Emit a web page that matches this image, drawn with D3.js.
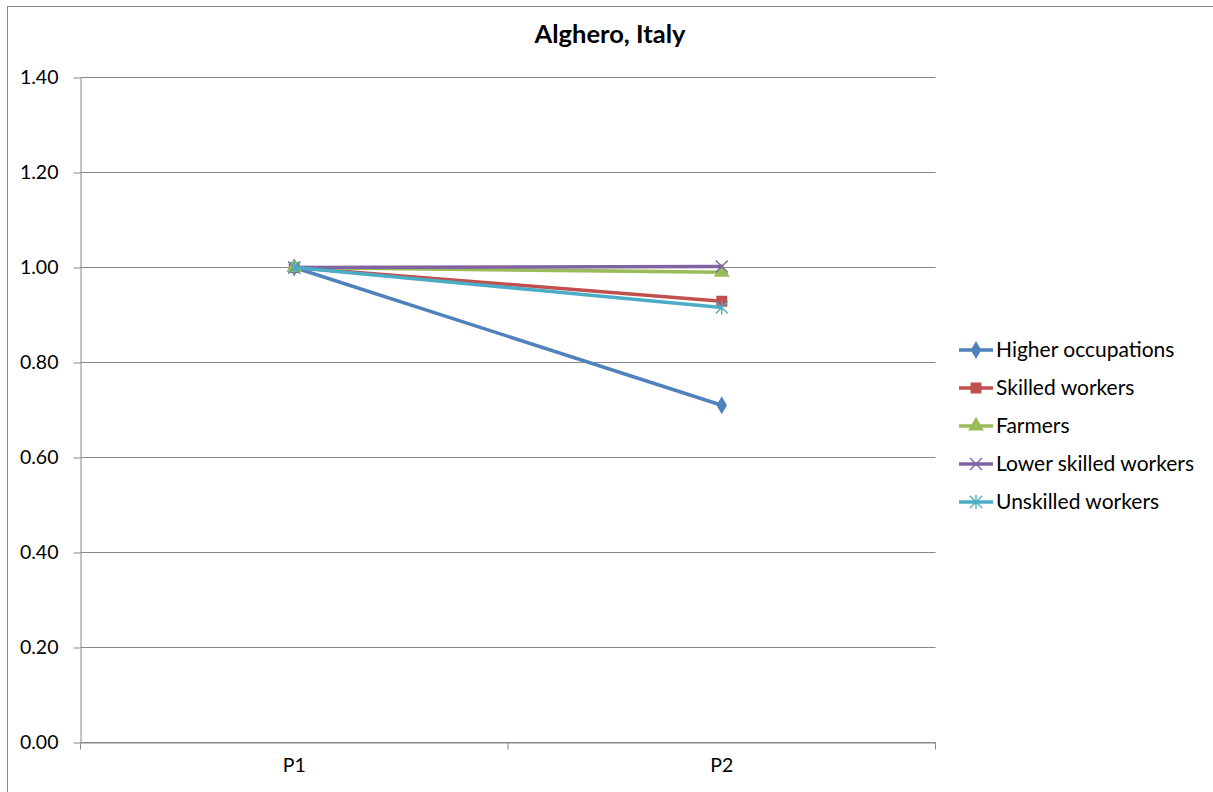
<!DOCTYPE html>
<meta charset="utf-8">
<style>
    body { margin: 0; background: #fff; }
    text { font-family: Lato, "Open Sans", sans-serif; fill: #000; }
    .tick text { font-size: 19.5px; }
</style>
<svg width="1213" height="792"></svg>
<script src="https://d3js.org/d3.v7.min.js"></script>
<script>

    var periods = ["P1", "P2"];
    var seriesNames = ["Higher occupations", "Skilled workers", "Farmers", "Lower skilled workers", "Unskilled workers"];
    var higher = [1.00, 0.71];
    var skilled = [1.00, 0.929];
    var farmers = [1.00, 0.99];
    var lowerSkilled = [1.00, 1.002];
    var unskilled = [1.00, 0.916];
    var yTicks = [0, 0.2, 0.4, 0.6, 0.8, 1.0, 1.2, 1.4];

    var colors = ["#4F81BD", "#C0504D", "#9BBB59", "#8064A2", "#4BACC6"];
    var symbols = ["diamond", "square", "triangle", "x", "star"];

    var series = [higher, skilled, farmers, lowerSkilled, unskilled].map(function (v, i) {
        return {name: seriesNames[i], values: v, color: colors[i], symbol: symbols[i]};
    });

    var svg = d3.select("svg"),
        margin = {top: 77.5, left: 80.5},
        width = 855,
        height = 665,
        g = svg.append("g").attr("transform", "translate(" + margin.left + "," + margin.top + ")");

    // chart border
    svg.append("rect")
        .attr("x", 7.5).attr("y", 6.5)
        .attr("width", 1240).attr("height", 820)
        .attr("fill", "none").attr("stroke", "#888").attr("stroke-width", 1);

    svg.append("text")
        .attr("x", 610).attr("y", 43)
        .attr("text-anchor", "middle")
        .style("font-size", "25.5px").style("font-weight", "bold")
        .text("Alghero, Italy");

    var x = d3.scaleBand().domain(periods).range([0, width]);
    var y = d3.scaleLinear().domain([0, 1.4]).range([height, 0]);

    // gridlines
    g.append("g")
        .selectAll("line")
        .data(yTicks)
        .enter().append("line")
        .attr("x1", 0).attr("x2", width)
        .attr("y1", d => Math.round(y(d)))
        .attr("y2", d => Math.round(y(d)))
        .attr("stroke", "#888");

    var yAxis = g.append("g")
        .call(d3.axisLeft(y).tickValues(yTicks).tickFormat(d3.format(".2f")).tickSize(7).tickSizeOuter(0).tickPadding(15));
    yAxis.selectAll("line, path").attr("stroke", "#888");

    var xAxis = g.append("g")
        .attr("transform", "translate(0," + height + ")")
        .call(d3.axisBottom(x).tickSize(0).tickPadding(16));
    xAxis.select(".domain").attr("stroke", "#888");
    g.append("g")
        .selectAll("line")
        .data([0, width / 2, width])
        .enter().append("line")
        .attr("x1", d => d).attr("x2", d => d)
        .attr("y1", height).attr("y2", height + 7)
        .attr("stroke", "#888");

    function marker(sel, s, size) {
        if (s.symbol === "x" || s.symbol === "star") {
            var r = size;
            var p = "M" + (-r) + "," + (-r) + "L" + r + "," + r + "M" + (-r) + "," + r + "L" + r + "," + (-r);
            if (s.symbol === "star") p += "M0," + (-r - 1) + "L0," + (r + 1);
            sel.append("path").attr("d", p).attr("stroke", s.color).attr("stroke-width", 1.4).attr("fill", "none");
        } else {
            var sym = {diamond: d3.symbolDiamond, square: d3.symbolSquare, triangle: d3.symbolTriangle}[s.symbol];
            var area = s.symbol === "diamond" ? 95 : s.symbol === "square" ? 121 : 110;
            sel.append("path").attr("d", d3.symbol(sym, area)()).attr("fill", s.color);
        }
    }

    var line = d3.line()
        .x((d, i) => x(periods[i]) + x.bandwidth() / 2)
        .y(d => y(d));

    series.forEach(function (s) {
        g.append("path")
            .datum(s.values)
            .attr("d", line)
            .attr("fill", "none")
            .attr("stroke", s.color)
            .attr("stroke-width", 3.5);
        s.values.forEach(function (v, i) {
            var m = g.append("g")
                .attr("transform", "translate(" + (x(periods[i]) + x.bandwidth() / 2) + "," + y(v) + ")");
            marker(m, s, 6);
        });
    });

    // legend
    var legend = svg.append("g").attr("transform", "translate(959,350)");
    series.forEach(function (s, i) {
        var row = legend.append("g").attr("transform", "translate(0," + (i * 38) + ")");
        row.append("line").attr("x1", 0).attr("x2", 34).attr("y1", 0).attr("y2", 0)
            .attr("stroke", s.color).attr("stroke-width", 3.5);
        var m = row.append("g").attr("transform", "translate(17,0)");
        marker(m, s, 6);
        row.append("text").attr("x", 37).attr("y", 0).attr("dy", "0.35em")
            .style("font-size", "21px").text(s.name);
    });

</script>
